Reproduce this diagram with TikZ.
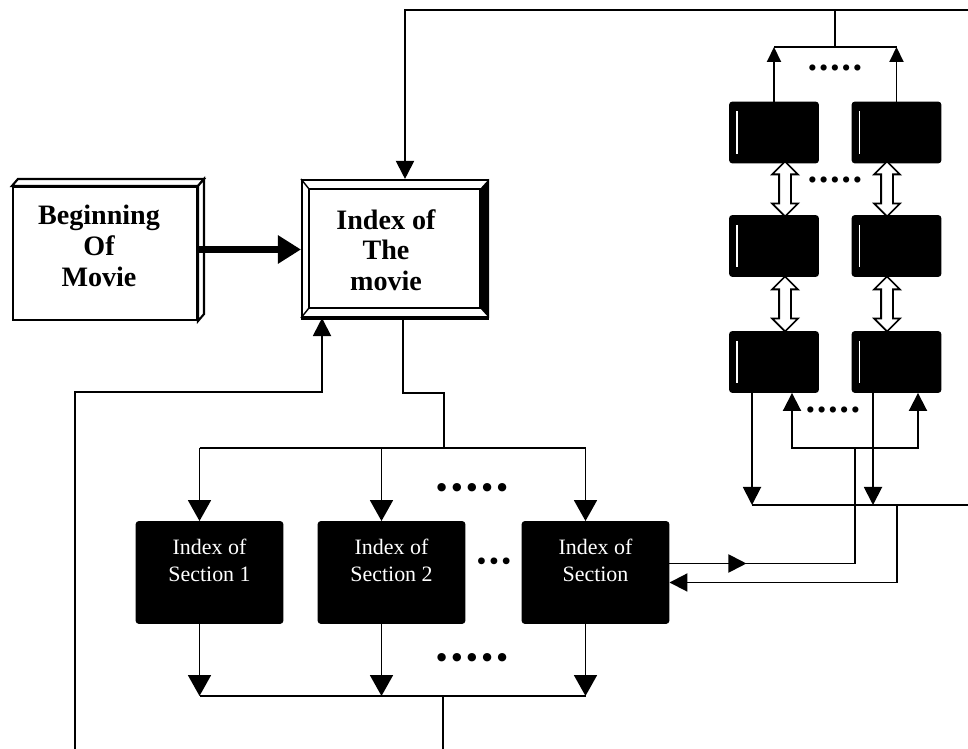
\documentclass[tikz,border=0pt]{standalone}
\usepackage{fontspec}
\setmainfont{Liberation Serif}
\newfontfamily\dotfont{DejaVu Sans}
\usepackage{tikz}
\usetikzlibrary{arrows.meta,shapes.arrows}

\begin{document}
\begin{tikzpicture}[x=0.02cm, y=-0.02cm, line width=1.1pt,
  bigtip/.style={-{Triangle[width=0.46cm,length=0.42cm]}},
  midtip/.style={-{Triangle[width=0.36cm,length=0.36cm]}},
  smalltip/.style={-{Triangle[width=0.28cm,length=0.3cm]}},
  titlebox/.style={draw, line width=1.2pt, fill=white, inner sep=0pt},
  titletext/.style={align=center, font=\fontsize{16}{17.5}\selectfont\bfseries},
  secbox/.style={draw, fill=black, rounded corners=1.5pt, minimum width=2.92cm, minimum height=2.02cm},
  sectext/.style={align=center, text=white, font=\fontsize{12.5}{15}\selectfont},
  cell/.style={draw, fill=black, rounded corners=1.5pt, minimum width=1.76cm, minimum height=1.2cm,
    path picture={\draw[white, line width=0.7pt]
      ([shift={(4pt,-5pt)}]path picture bounding box.north west) --
      ([shift={(4pt,5pt)}]path picture bounding box.south west);}},
  swap/.style={double arrow, draw, fill=white, line width=1pt, rotate=90,
    inner sep=0.1cm, minimum height=1.1cm, double arrow head extend=0.14cm},
  dotrow/.style={inner sep=0pt, font=\dotfont\bfseries\fontsize{#1}{#1}\selectfont}]
  \useasboundingbox (0,0) rectangle (968,749);
  % ---- start box and movie index ----
  \node[titlebox, minimum width=3.68cm, minimum height=2.66cm] (begin) at (105,253.5) {};
  \draw[line width=1.2pt, fill=white] (begin.north west) -- ++(6,-7) -- ([shift={(6,-7)}]begin.north east) -- (begin.north east) -- cycle;
  \draw[line width=1.2pt, fill=white] (begin.north east) -- ++(6,-7) -- ([shift={(6,-7)}]begin.south east) -- (begin.south east) -- cycle;
  \node[titletext] (begintext) at (99,246) {Beginning\\Of\\Movie};
  \node[titlebox, minimum width=3.72cm, minimum height=2.74cm] (movie) at (395,248.5) {};
  \coordinate (inNW) at ([shift={(8,10)}]movie.north west);
  \coordinate (inNE) at ([shift={(-9,10)}]movie.north east);
  \coordinate (inSW) at ([shift={(8,-10)}]movie.south west);
  \coordinate (inSE) at ([shift={(-9,-10)}]movie.south east);
  \fill (movie.north east) -- (inNE) -- (inSE) -- (movie.south east) -- cycle;
  \draw[line width=0.8pt] (inNW) rectangle (inSE);
  \draw[line width=0.8pt] (movie.north west) -- (inNW) (movie.south west) -- (inSW);
  \draw[line width=2pt] (movie.south west) -- (movie.south east);
  \node[titletext] (movietext) at (386,250) {Index of\\The\\movie};
  % ---- cells on the right ----
  \foreach \r/\y in {1/132.5, 2/246, 3/362} {
    \node[cell] (c\r1) at (774,\y) {};
    \node[cell] (c\r2) at (896.5,\y) {};
  }
  \node[swap] (sw1) at (785,189) {};
  \node[swap] (sw2) at (887,189) {};
  \node[swap] (sw3) at (785,304) {};
  \node[swap] (sw4) at (887,304) {};
  \node[dotrow=10] (dotsA) at (835,70) {•••••};
  \node[dotrow=10] (dotsB) at (835,182) {•••••};
  \node[dotrow=10] (dotsC) at (833,412) {•••••};
  % ---- section indexes ----
  \node[secbox] (s1) at (209.5,572.5) {};
  \node[secbox] (s2) at (391.5,572.5) {};
  \node[secbox] (s3) at (595.5,572.5) {};
  \node[sectext] (t1) at ([yshift=0.24cm]s1.center) {Index of\\Section 1};
  \node[sectext] (t2) at ([yshift=0.24cm]s2.center) {Index of\\Section 2};
  \node[sectext] (t3) at ([yshift=0.24cm]s3.center) {Index of\\Section};
  \node[dotrow=13.5] (dotsD) at (472,490) {•••••};
  \node[dotrow=11] (dotsE) at (494,563) {•••};
  \node[dotrow=13.5] (dotsF) at (472,660) {•••••};
  % ---- start into the index ----
  \coordinate (bx) at ([yshift=0.08cm]begin.east);
  \draw[line width=4.5pt, -{Triangle[width=0.54cm,length=0.46cm]}] (bx) -- (bx -| movie.west);
  % ---- loop over the top ----
  \coordinate (topbar) at (835,47);
  \draw (c11.north |- topbar) -- (c12.north |- topbar);
  \draw[smalltip] (c11.north) -- (c11.north |- topbar);
  \draw[smalltip] (c12.north) -- (c12.north |- topbar);
  \draw (topbar) -- (topbar |- 0,10) -- (968,10);
  \draw[midtip] (topbar |- 0,10) -| ([xshift=0.2cm]movie.north);
  % ---- cells to and from section ----
  \coordinate (rbus) at (752,505);
  \coordinate (upbar) at (855,448);
  \coordinate (rtap) at (897,505);
  \coordinate (d31) at ([xshift=-0.44cm]c31.south);
  \coordinate (d32) at ([xshift=-0.47cm]c32.south);
  \coordinate (u31) at ([xshift=0.36cm]c31.south);
  \coordinate (u32) at ([xshift=0.43cm]c32.south);
  \draw (rbus) -- (968,505);
  \draw[midtip] (d31) -- (d31 |- rbus);
  \draw[midtip] (d32) -- (d32 |- rbus);
  \draw[midtip] (upbar) -| (u31);
  \draw[midtip] (upbar) -| (u32);
  \coordinate (o3) at ([yshift=0.18cm]s3.east);
  \coordinate (i3) at ([yshift=-0.2cm]s3.east);
  \draw (o3) -| (upbar);
  \draw[midtip] (o3) -- ++(77,0);
  \draw[midtip] (rtap) |- (i3);
  % ---- index down to sections ----
  \coordinate (secbus) at (444,448);
  \coordinate (outbus) at (443,696);
  \draw ([xshift=0.16cm]movie.south) -- ++(0,75) -| (secbus);
  \foreach \s in {1,2,3} {
    \coordinate (a\s) at ([xshift=-0.2cm]s\s.north);
    \coordinate (b\s) at ([xshift=-0.2cm]s\s.south);
    \draw[bigtip] (a\s |- secbus) -- (a\s);
    \draw[bigtip] (b\s) -- (b\s |- outbus);
  }
  \draw (a1 |- secbus) -- (a3 |- secbus);
  \draw (b1 |- outbus) -- (b3 |- outbus);
  \draw (outbus) -- (443,749);
  % ---- back up to the index ----
  \coordinate (fb) at (75,749);
  \coordinate (m3) at ([xshift=-1.46cm]movie.south);
  \draw[midtip] (fb) |- (m3 |- 0,392) -- (m3);
\end{tikzpicture}
\end{document}
